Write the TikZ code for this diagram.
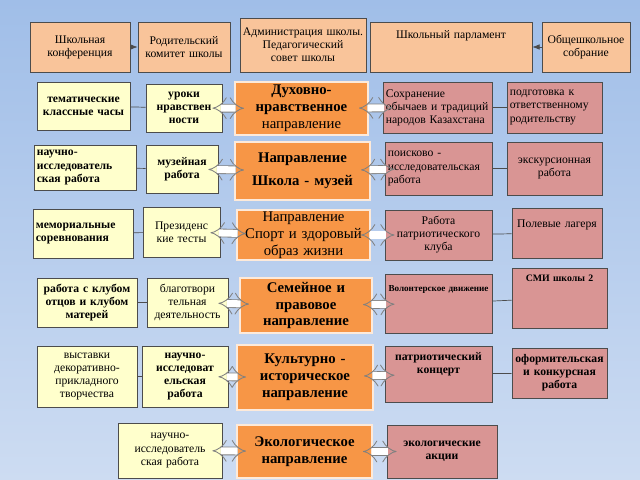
\documentclass[tikz,border=0pt]{standalone}
\usepackage{fontspec}
\setmainfont{Liberation Serif}
\usetikzlibrary{arrows.meta}
\definecolor{peach}{HTML}{F9C49A}
\definecolor{orng}{HTML}{F79646}
\definecolor{pale}{HTML}{FFFFCC}
\definecolor{rose}{HTML}{D99594}
\tikzset{
  box/.style={draw=black!70, rectangle, inner sep=1pt, align=center, font=\fontsize{8.3}{9.3}\selectfont},
  top/.style={box, fill=peach},
  dir/.style={box, fill=orng, draw=white!80!orng, line width=1.2pt, font=\fontsize{10.5}{12}\selectfont},
  lft/.style={box, fill=pale},
  rgt/.style={box, fill=rose},
  link/.style={draw=black!70, line width=0.5pt},
  dbl/.style={draw=black!50, double=white, double distance=5pt, line width=0.6pt, {Implies}-{Implies}, shorten <=-7pt, shorten >=-7pt}
}
% box from pixel corners
\newcommand{\bx}[7]{\node[#6, minimum width={(#4-#2)*0.025cm}, minimum height={(#5-#3)*0.025cm}, text width={(#4-#2)*0.025cm-4pt}] (#1) at ({(#2+#4)/2},{(#3+#5)/2}) {#7};}
\begin{document}
\begin{tikzpicture}[x=0.025cm, y=-0.025cm]
		\shade[top color={rgb,255:red,160;green,190;blue,232}, bottom color={rgb,255:red,205;green,220;blue,242}] (0,0) rectangle (640,480);
		\useasboundingbox (0,0) rectangle (640,480);
		% top row
		\bx{conf}{30}{22}{130}{72}{top}{Школьная конференция}
		\bx{parent}{138}{22}{230}{72}{top}{Родительский комитет школы}
		\bx{admin}{240}{18}{366}{72}{top}{Администрация школы. Педагогический совет школы}
		\bx{parl}{370}{22}{532}{72}{top}{Школьный парламент\\[8pt]~}
		\bx{meet}{542}{22}{630}{72}{top}{Общешкольное собрание}
		\draw[link, -Latex] (conf) -- (parent);
		\draw[link, -Latex] (meet) -- (parl);

		% directions
		\bx{d1}{235}{82}{368}{135}{dir}{\textbf{Духовно-нравственное}\\направление}
		\bx{d2}{235}{142}{370}{200}{dir}{\textbf{Направление\\[4pt]Школа - музей}}
		\bx{d3}{237}{210}{370}{260}{dir}{Направление Спорт и здоровый образ жизни}
		\bx{d4}{240}{278}{372}{333}{dir}{\textbf{Семейное и правовое направление}}
		\bx{d5}{237}{345}{373}{410}{dir}{\textbf{Культурно - историческое направление}}
		\bx{d6}{237}{425}{372}{478}{dir}{\textbf{Экологическое направление}}

		% left side
		\bx{l1a}{37}{82}{130}{130}{lft}{\textbf{тематические классные часы}}
		\bx{l1b}{146}{84}{222}{132}{lft}{\textbf{уроки нравствен\\ности}}
		\bx{l2a}{34}{145}{136}{190}{lft, align=left}{\textbf{научно-исследователь\\ская работа}}
		\bx{l2b}{146}{145}{218}{193}{lft}{\textbf{музейная работа}}
		\bx{l3a}{33}{209}{133}{258}{lft, align=left}{\textbf{мемориальные соревнования}}
		\bx{l3b}{143}{207}{220}{257}{lft}{Президенс\\кие тесты}
		\bx{l4a}{37}{278}{137}{327}{lft}{\textbf{работа с клубом отцов и клубом матерей}}
		\bx{l4b}{147}{278}{228}{327}{lft}{благотвори\\тельная деятельность}
		\bx{l5a}{37}{346}{137}{407}{lft}{выставки декоративно-прикладного творчества}
		\bx{l5b}{142}{346}{228}{407}{lft}{\textbf{научно-исследоват\\ельская работа}}
		\bx{l6}{118}{423}{222}{478}{lft}{научно-исследователь\\ская работа}

		% right side
		\bx{r1a}{383}{82}{492}{133}{rgt, align=left}{Сохранение обычаев и традиций народов Казахстана}
		\bx{r1b}{507}{82}{602}{133}{rgt, align=left}{подготовка к ответственному родительству}
		\bx{r2a}{385}{142}{492}{195}{rgt, align=left}{поисково - исследовательская работа}
		\bx{r2b}{507}{142}{602}{195}{rgt}{экскурсионная работа}
		\bx{r3a}{385}{210}{492}{260}{rgt}{Работа патриотического клуба}
		\bx{r3b}{512}{208}{602}{258}{rgt}{Полевые лагеря\\[4pt]~}
		\bx{r4a}{385}{274}{492}{333}{rgt, font=\fontsize{6.5}{7.5}\selectfont}{\textbf{Волонтерское движение}\\[14pt]~}
		\bx{r4b}{512}{268}{607}{328}{rgt, font=\fontsize{7}{8}\selectfont}{\textbf{СМИ школы 2}\\[20pt]~}
		\bx{r5a}{385}{346}{492}{402}{rgt}{\textbf{патриотический концерт}\\[6pt]~}
		\bx{r5b}{512}{348}{607}{398}{rgt}{\textbf{оформительская и конкурсная работа}}
		\bx{r6}{387}{425}{497}{478}{rgt}{\textbf{экологические акции}}

		% connectors
		\foreach \i in {1,...,5} {
			\draw[link] (l\i a) -- (l\i b);
			\draw[link] (r\i a) -- (r\i b);
			\draw[dbl] (l\i b) -- (d\i);
			\draw[dbl] (d\i) -- (r\i a);
		}
		\draw[dbl] (l6) -- (d6);
		\draw[dbl] (d6) -- (r6);
	\end{tikzpicture}
\end{document}
